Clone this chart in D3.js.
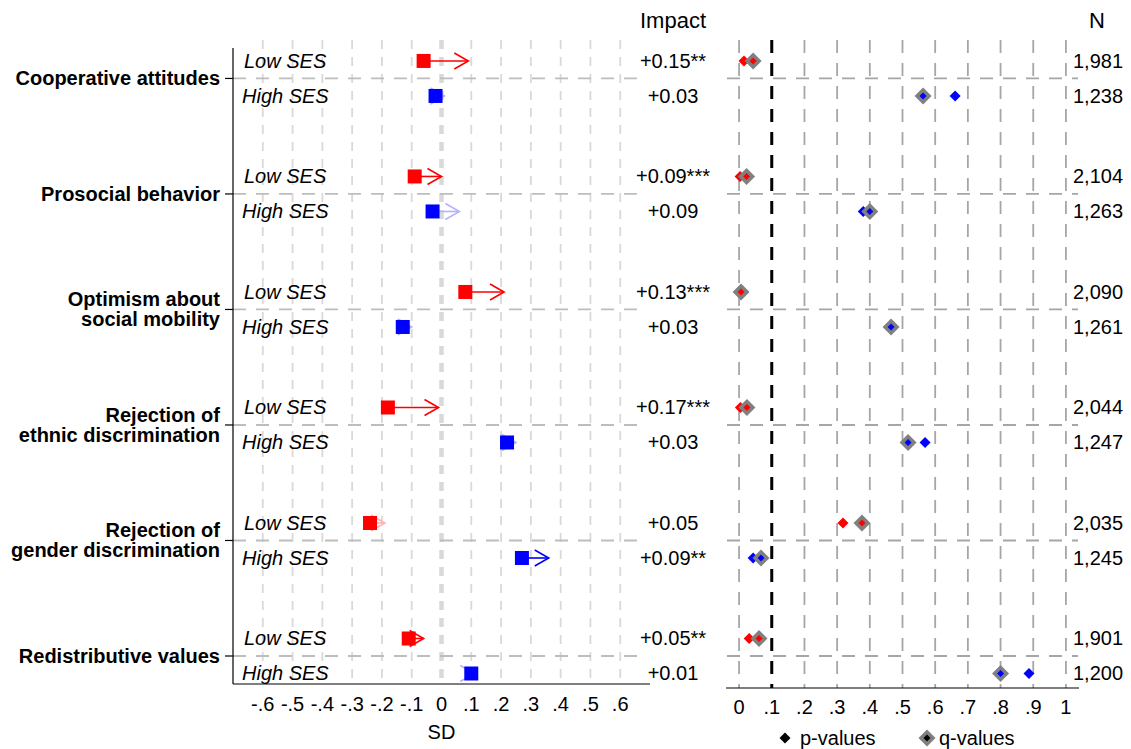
<html>
    <head>
        <meta charset="utf-8">
        <script src="https://d3js.org/d3.v7.min.js"></script>
        <style>
            body { margin: 0; background: white; }
            text { font-family: "Liberation Sans", Arial, sans-serif; }
        </style>
    </head>
    <body>
        <div id="chart"></div>
        <script>
            // outcome labels (one array per label line)
            const outcomes = [
                ["Cooperative attitudes"],
                ["Prosocial behavior"],
                ["Optimism about", "social mobility"],
                ["Rejection of", "ethnic discrimination"],
                ["Rejection of", "gender discrimination"],
                ["Redistributive values"]
            ];
            const groups = ["Low SES", "High SES"];

            // square = baseline position (SD), arrow length = impact
            const baseLow  = [-0.06, -0.09, 0.08, -0.18, -0.24, -0.11];
            const baseHigh = [-0.02, -0.03, -0.13, 0.22, 0.27, 0.10];
            const impactLow  = [0.15, 0.09, 0.13, 0.17, 0.05, 0.05];
            const impactHigh = [0.03, 0.09, 0.03, 0.03, 0.09, 0.01];
            const starsLow  = ["**", "***", "***", "***", "", "**"];
            const starsHigh = ["", "", "", "", "**", ""];

            const pLow  = [0.015, 0.003, 0.002, 0.004, 0.318, 0.031];
            const qLow  = [0.043, 0.023, 0.006, 0.024, 0.376, 0.061];
            const pHigh = [0.661, 0.380, 0.470, 0.569, 0.043, 0.887];
            const qHigh = [0.563, 0.400, 0.465, 0.517, 0.067, 0.800];

            const nLow  = [1981, 2104, 2090, 2044, 2035, 1901];
            const nHigh = [1238, 1263, 1261, 1247, 1245, 1200];

            const sdTicks = [-0.6, -0.5, -0.4, -0.3, -0.2, -0.1, 0, 0.1, 0.2, 0.3, 0.4, 0.5, 0.6];
            const pTicks = [0, 0.1, 0.2, 0.3, 0.4, 0.5, 0.6, 0.7, 0.8, 0.9, 1];

            const width = 1131, height = 749;
            const groupGap = 3.3;
            const fs = "20px";

            // build rows
            let rows = [];
            outcomes.forEach((o, i) => {
                rows.push({g: i, pos: i * groupGap, label: groups[0], base: baseLow[i], imp: impactLow[i],
                           stars: starsLow[i], p: pLow[i], q: qLow[i], n: nLow[i], color: "#ff0000", faint: "#ffb3b3"});
                rows.push({g: i, pos: i * groupGap + 1, label: groups[1], base: baseHigh[i], imp: impactHigh[i],
                           stars: starsHigh[i], p: pHigh[i], q: qHigh[i], n: nHigh[i], color: "#0000ff", faint: "#b3b3ff"});
            });

            let svg = d3.select("#chart").append("svg")
                        .attr("width", width)
                        .attr("height", height);

            let yScale = d3.scaleLinear().domain([-0.37, 17.8]).range([48, 684]);
            let xScale = d3.scaleLinear().domain([-0.7, 0.7]).range([233, 650]);
            let pScale = d3.scaleLinear().domain([-0.04, 1.04]).range([726, 1079]);

            // Stata style labels: -.6, .1, 0
            const fmt = v => v == 0 ? "0" : v.toFixed(1).replace("0.", ".");
            const gridTop = 40, leftBottom = 684, rightBottom = 688;

            // ---- left panel gridlines ----
            let leftGrid = svg.append("g");
            leftGrid.selectAll("line").data(sdTicks)
                    .join("line")
                    .attr("x1", d => xScale(d)).attr("x2", d => xScale(d))
                    .attr("y1", gridTop).attr("y2", leftBottom)
                    .attr("stroke", "#d9d9d9")
                    .attr("stroke-width", d => d == 0 ? 4.5 : 1.8)
                    .attr("stroke-dasharray", "9,8");

            // ---- right panel gridlines ----
            let rightGrid = svg.append("g");
            rightGrid.selectAll("line").data(pTicks)
                     .join("line")
                     .attr("x1", d => pScale(d)).attr("x2", d => pScale(d))
                     .attr("y1", gridTop).attr("y2", rightBottom)
                     .attr("stroke", d => d == 0.1 ? "black" : "#a6a6a6")
                     .attr("stroke-width", d => d == 0.1 ? 3 : 1.8)
                     .attr("stroke-dasharray", "13,10");

            // separators between Low/High rows of each outcome
            let seps = svg.append("g");
            outcomes.forEach((o, i) => {
                let y = yScale(i * groupGap + 0.5);
                seps.append("line")
                    .attr("x1", xScale.range()[0]).attr("x2", 646)
                    .attr("y1", y).attr("y2", y)
                    .attr("stroke", "#bdbdbd").attr("stroke-width", 1.8)
                    .attr("stroke-dasharray", "13,10");
                seps.append("line")
                    .attr("x1", 727).attr("x2", 1078)
                    .attr("y1", y).attr("y2", y)
                    .attr("stroke", "#a6a6a6").attr("stroke-width", 1.8)
                    .attr("stroke-dasharray", "13,10");
            });

            // ---- axes ----
            svg.append("line")
               .attr("x1", 233).attr("x2", 233)
               .attr("y1", 48).attr("y2", leftBottom)
               .attr("stroke", "black").attr("stroke-width", 1.2);
            svg.append("line")
               .attr("x1", 233).attr("x2", 650)
               .attr("y1", leftBottom).attr("y2", leftBottom)
               .attr("stroke", "black").attr("stroke-width", 1.2);
            svg.append("line")
               .attr("x1", 726).attr("x2", 1079)
               .attr("y1", rightBottom).attr("y2", rightBottom)
               .attr("stroke", "black").attr("stroke-width", 1.2);

            svg.append("g").selectAll("text").data(sdTicks)
               .join("text")
               .attr("x", d => xScale(d))
               .attr("y", 711)
               .attr("text-anchor", "middle")
               .style("font-size", fs)
               .text(d => fmt(d));
            svg.append("g").selectAll("text").data(pTicks)
               .join("text")
               .attr("x", d => pScale(d))
               .attr("y", 714)
               .attr("text-anchor", "middle")
               .style("font-size", fs)
               .text(d => d == 1 ? "1" : fmt(d));

            svg.append("text")
               .attr("x", xScale(0)).attr("y", 739)
               .attr("text-anchor", "middle")
               .style("font-size", fs)
               .text("SD");

            // outcome labels + ticks
            let cat = svg.append("g");
            outcomes.forEach((lines, i) => {
                let y = yScale(i * groupGap + 0.5);
                cat.append("line")
                   .attr("x1", 225).attr("x2", 233)
                   .attr("y1", y).attr("y2", y)
                   .attr("stroke", "black").attr("stroke-width", 1.2);
                let t = cat.append("text")
                           .attr("text-anchor", "end")
                           .style("font-size", fs)
                           .style("font-weight", "bold");
                lines.forEach((l, j) => {
                    t.append("tspan")
                     .attr("x", 220)
                     .attr("y", y + 7 + (j - (lines.length - 1) / 2) * 20)
                     .text(l);
                });
            });

            // row labels
            svg.append("g").selectAll("text").data(rows)
               .join("text")
               .attr("x", d => d.label == "Low SES" ? 244 : 242)
               .attr("y", d => yScale(d.pos) + 7)
               .style("font-size", fs)
               .style("font-style", "italic")
               .text(d => d.label);

            // ---- arrows (impact) ----
            let arrows = svg.append("g");
            rows.forEach(d => {
                let x0 = xScale(d.base), x1 = xScale(d.base + d.imp), y = yScale(d.pos);
                let col = d.stars != "" ? d.color : d.faint;
                arrows.append("line")
                      .attr("x1", x0).attr("x2", x1)
                      .attr("y1", y).attr("y2", y)
                      .attr("stroke", col).attr("stroke-width", 1.6);
                arrows.append("path")
                      .attr("d", `M${x1 - 14},${y - 8} L${x1},${y} L${x1 - 14},${y + 8}`)
                      .attr("fill", "none")
                      .attr("stroke", col).attr("stroke-width", 1.6);
            });

            // squares (baseline)
            svg.append("g").selectAll("rect").data(rows)
               .join("rect")
               .attr("x", d => xScale(d.base) - 7)
               .attr("y", d => yScale(d.pos) - 7)
               .attr("width", 14).attr("height", 14)
               .attr("fill", d => d.color);

            // impact text
            svg.append("text")
               .attr("x", 673).attr("y", 28)
               .attr("text-anchor", "middle")
               .style("font-size", "22px")
               .text("Impact");
            svg.append("g").selectAll("text").data(rows)
               .join("text")
               .attr("x", 673)
               .attr("y", d => yScale(d.pos) + 7)
               .attr("text-anchor", "middle")
               .style("font-size", fs)
               .text(d => "+" + d.imp.toFixed(2) + d.stars);

            // ---- p / q diamonds ----
            const diamond = (cx, cy, r) => `M${cx},${cy - r} L${cx + r},${cy} L${cx},${cy + r} L${cx - r},${cy} Z`;
            let pq = svg.append("g");
            rows.forEach(d => {
                let y = yScale(d.pos);
                pq.append("path").attr("d", diamond(pScale(d.p), y, 5.5)).attr("fill", d.color);
                pq.append("path").attr("d", diamond(pScale(d.q), y, 8.5)).attr("fill", "#808080");
                pq.append("path").attr("d", diamond(pScale(d.q), y, 3.5)).attr("fill", d.color);
            });

            // N column
            svg.append("text")
               .attr("x", 1097).attr("y", 28)
               .attr("text-anchor", "middle")
               .style("font-size", "22px")
               .text("N");
            svg.append("g").selectAll("text").data(rows)
               .join("text")
               .attr("x", 1073)
               .attr("y", d => yScale(d.pos) + 7)
               .style("font-size", fs)
               .text(d => d3.format(",")(d.n));

            // legend
            let leg = svg.append("g");
            leg.append("path").attr("d", diamond(785, 738, 5.5)).attr("fill", "black");
            leg.append("text").attr("x", 800).attr("y", 745).style("font-size", fs).text("p-values");
            leg.append("path").attr("d", diamond(927, 738, 8.5)).attr("fill", "#808080");
            leg.append("path").attr("d", diamond(927, 738, 3.5)).attr("fill", "black");
            leg.append("text").attr("x", 939).attr("y", 745).style("font-size", fs).text("q-values");
        </script>
    </body>
</html>
